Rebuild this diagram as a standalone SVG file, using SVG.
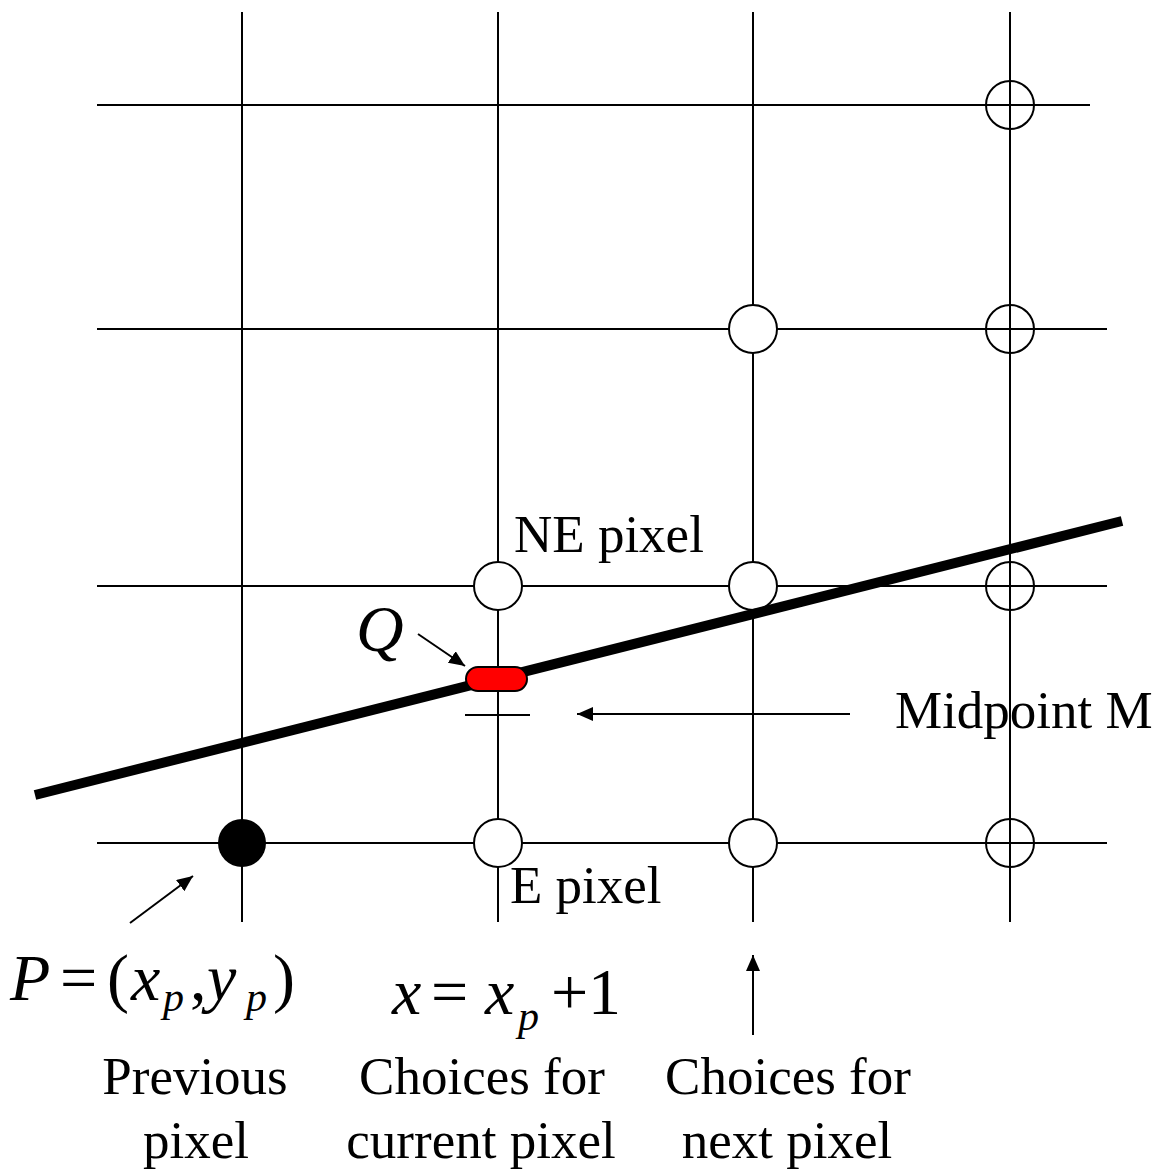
<svg xmlns="http://www.w3.org/2000/svg" width="1159" height="1173" viewBox="0 0 1159 1173">
<style>
.grid{stroke:#000;stroke-width:2;fill:none}
.pix{stroke:#000;stroke-width:2;fill:#fff}
.pixo{stroke:#000;stroke-width:2;fill:none}
.arr{stroke:#000;stroke-width:2;fill:none}
.t{font-family:"Liberation Serif","Times New Roman",serif;font-size:53px;fill:#000}
.m{font-family:"Liberation Serif","Times New Roman",serif;font-size:66px;fill:#000}
.i{font-style:italic}
.s{font-size:42px;font-style:italic}
</style>
<defs>
<marker id="ah" markerUnits="userSpaceOnUse" markerWidth="18" markerHeight="16" refX="16" refY="7" orient="auto">
<path d="M0,0 L16,7 L0,14 Z" fill="#000"/>
</marker>
</defs>
<rect width="1159" height="1173" fill="#fff"/>
<g id="grid" class="grid">
<line x1="242" y1="12" x2="242" y2="922"/>
<line x1="498" y1="12" x2="498" y2="922"/>
<line x1="753" y1="12" x2="753" y2="922"/>
<line x1="1010" y1="12" x2="1010" y2="922"/>
<line x1="97" y1="105" x2="1090" y2="105"/>
<line x1="97" y1="329" x2="1107" y2="329"/>
<line x1="97" y1="586" x2="1107" y2="586"/>
<line x1="97" y1="843" x2="1107" y2="843"/>
</g>
<g id="pixels">
<circle id="p-1010-105" class="pixo" cx="1010" cy="105" r="24"/>
<circle id="p-753-329" class="pix" cx="753" cy="329" r="24"/>
<circle id="p-1010-329" class="pixo" cx="1010" cy="329" r="24"/>
<circle id="ne-pixel" class="pix" cx="498" cy="586" r="24"/>
<circle id="p-753-586" class="pix" cx="753" cy="586" r="24"/>
<circle id="p-1010-586" class="pixo" cx="1010" cy="586" r="24"/>
<circle id="e-pixel" class="pix" cx="498" cy="843" r="24"/>
<circle id="p-753-843" class="pix" cx="753" cy="843" r="24"/>
<circle id="p-1010-843" class="pixo" cx="1010" cy="843" r="24"/>
<circle id="prev-pixel" cx="242" cy="843" r="24" fill="#000"/>
</g>
<g id="line">
<line x1="35" y1="795" x2="1122" y2="521" stroke="#000" stroke-width="10"/>
</g>
<g id="q-point">
<rect x="466" y="667" width="61" height="24" rx="12" ry="12" fill="#f00" stroke="#000" stroke-width="2"/>
</g>
<g id="midpoint">
<line x1="465" y1="715" x2="530" y2="715" stroke="#000" stroke-width="2"/>
</g>
<g id="connectors" class="arr">
<line x1="418" y1="634" x2="465" y2="666" marker-end="url(#ah)"/>
<line x1="850" y1="714" x2="577" y2="714" marker-end="url(#ah)"/>
<line x1="130" y1="923" x2="193" y2="876" marker-end="url(#ah)"/>
<line x1="753" y1="1035" x2="753" y2="955" marker-end="url(#ah)"/>
</g>
<g id="labels">
<text class="m i" x="356" y="651" font-size="70">Q</text>
<text class="t" x="514" y="552">NE pixel</text>
<text class="t" x="510" y="903">E pixel</text>
<text class="t" x="895" y="728">Midpoint M</text>
<text class="m"><tspan class="i" x="10" y="1000">P</tspan><tspan x="60" y="1000">=</tspan><tspan x="107" y="1000">(</tspan><tspan class="i" x="131" y="1000">x</tspan><tspan class="s" x="163" y="1011">p</tspan><tspan x="190" y="1000">,</tspan><tspan class="i" x="207" y="1000">y</tspan><tspan class="s" x="246" y="1011">p</tspan><tspan x="273" y="1000">)</tspan></text>
<text class="m"><tspan class="i" x="392" y="1014">x</tspan><tspan x="431" y="1014">=</tspan><tspan class="i" x="485" y="1014">x</tspan><tspan class="s" x="518" y="1030">p</tspan><tspan x="551" y="1014">+</tspan><tspan x="588" y="1014">1</tspan></text>
<text class="t" text-anchor="middle"><tspan x="195" y="1094">Previous</tspan><tspan x="196" y="1158">pixel</tspan></text>
<text class="t" text-anchor="middle"><tspan x="482" y="1094">Choices for</tspan><tspan x="481" y="1158">current pixel</tspan></text>
<text class="t" text-anchor="middle"><tspan x="788" y="1094">Choices for</tspan><tspan x="787" y="1158">next pixel</tspan></text>
</g>
</svg>
